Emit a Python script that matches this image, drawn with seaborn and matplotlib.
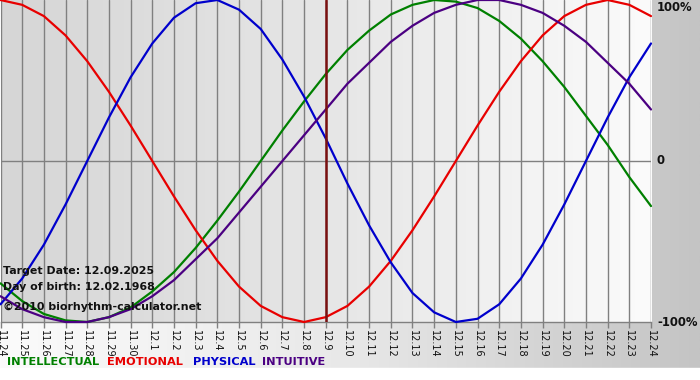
import numpy as np
import pandas as pd
import matplotlib
matplotlib.use("Agg")
import matplotlib.pyplot as plt
import seaborn as sns
from matplotlib.colors import LinearSegmentedColormap

# ---- data ----
dates = ["11.24", "11.25", "11.26", "11.27", "11.28", "11.29", "11.30",
         "12.1", "12.2", "12.3", "12.4", "12.5", "12.6", "12.7", "12.8",
         "12.9", "12.10", "12.11", "12.12", "12.13", "12.14", "12.15",
         "12.16", "12.17", "12.18", "12.19", "12.20", "12.21", "12.22",
         "12.23", "12.24"]

intellectual = [-0.76, -0.87, -0.95, -0.99, -1.00, -0.97, -0.91, -0.81, -0.69,
                -0.54, -0.37, -0.19, 0.00, 0.19, 0.37, 0.54, 0.69, 0.81, 0.91,
                0.97, 1.00, 0.99, 0.95, 0.87, 0.76, 0.62, 0.46, 0.28, 0.10,
                -0.10, -0.28]
emotional = [1.00, 0.97, 0.90, 0.78, 0.62, 0.43, 0.22, 0.00, -0.22, -0.43,
             -0.62, -0.78, -0.90, -0.97, -1.00, -0.97, -0.90, -0.78, -0.62,
             -0.43, -0.22, 0.00, 0.22, 0.43, 0.62, 0.78, 0.90, 0.97, 1.00,
             0.97, 0.90]
physical = [-0.89, -0.73, -0.52, -0.27, 0.00, 0.27, 0.52, 0.73, 0.89, 0.98,
            1.00, 0.94, 0.82, 0.63, 0.40, 0.14, -0.14, -0.40, -0.63, -0.82,
            -0.94, -1.00, -0.98, -0.89, -0.73, -0.52, -0.27, 0.00, 0.27,
            0.52, 0.73]
intuitive = [-0.84, -0.92, -0.97, -1.00, -1.00, -0.97, -0.92, -0.84, -0.74,
             -0.61, -0.48, -0.32, -0.16, 0.00, 0.16, 0.32, 0.48, 0.61, 0.74,
             0.84, 0.92, 0.97, 1.00, 1.00, 0.97, 0.92, 0.84, 0.74, 0.61,
             0.48, 0.32]

series_names = ["INTELLECTUAL", "EMOTIONAL", "PHYSICAL", "INTUITIVE"]
series_colors = ["#008000", "#e80000", "#0000cc", "#4b0082"]
y_labels = ["100%", "0", "-100%"]
target_date = "12.9"
info_lines = ["Target Date: 12.09.2025", "Day of birth: 12.02.1968",
              "\u00a92010 biorhythm-calculator.net"]

# ---- build table ----
frames = []
for name, vals in zip(series_names,
                      [intellectual, emotional, physical, intuitive]):
    frames.append(pd.DataFrame({"day": np.arange(len(dates)),
                                "value": vals, "series": name}))
df = pd.concat(frames, ignore_index=True)

sns.set_theme(style="white")
plt.rcParams["font.family"] = ["DejaVu Sans"]

W, H = 700, 380
fig = plt.figure(figsize=(W / 100, H / 100), dpi=100)

# figure background gradient
bg = fig.add_axes([0, 0, 1, 1], zorder=-10)
bg.axis("off")
cm_bg = LinearSegmentedColormap.from_list("bg", ["#fbfbfb", "#e8e8e8", "#c4c4c4"])
grad = np.linspace(0, 1, 256)[None, :]
bg.imshow(grad, cmap=cm_bg, aspect="auto", extent=[0, 1, 0, 1])
bg.axhspan(0, 12 / H, color="#ffffff", zorder=2)
bg.set_xlim(0, 1)
bg.set_ylim(0, 1)

# plot area
left, right, top, bottom = 0.5, 651, 0, 322
ax = fig.add_axes([left / W, 1 - bottom / H, (right - left) / W, (bottom - top) / H])
n = len(dates)
cm_ax = LinearSegmentedColormap.from_list("ax", ["#d6d6d6", "#e6e6e6", "#fbfbfb"])
ax.imshow(grad, cmap=cm_ax, aspect="auto", extent=[0, n - 1, -1, 1], zorder=0)

sns.lineplot(data=df, x="day", y="value", hue="series",
             palette=dict(zip(series_names, series_colors)),
             hue_order=series_names, linewidth=1.6, legend=False, ax=ax,
             zorder=5, clip_on=False)

ax.set_xlim(0, n - 1)
ax.set_ylim(-1, 1)
ax.set_xticks(np.arange(n))
ax.set_xticklabels(dates, rotation=270, fontsize=7, color="#111111")
ax.set_yticks([])
ax.grid(axis="x", color="#808080", linewidth=1, zorder=1)
ax.set_axisbelow(True)
ax.axhline(0, color="#808080", linewidth=1, zorder=1)
ax.axvline(dates.index(target_date), color="#7a1010", linewidth=1.8, zorder=6)
ax.tick_params(axis="x", length=4, width=1, color="#808080", pad=2,
               bottom=True)
for s in ["left", "right", "top"]:
    ax.spines[s].set_visible(False)
ax.spines["bottom"].set_color("#808080")
ax.spines["bottom"].set_linewidth(1)
ax.set_xlabel("")
ax.set_ylabel("")

# right side labels
for lab, yv in zip(y_labels, [0.955, 0, -1]):
    fs = 8.4
    ax.text(1.0 + 6 / 651, yv, lab, transform=ax.get_yaxis_transform(),
            ha="left", va="center", fontsize=fs, fontweight="bold",
            color="#111111", clip_on=False)

# info text
for i, (txt, ypx) in enumerate(zip(info_lines, [271, 287, 307])):
    fig.text(3 / W, 1 - ypx / H, txt, ha="left", va="center",
             fontsize=7.9, fontweight="bold", color="#111111", zorder=10)

# legend text
xs = [7, 107, 193, 262]
for name, col, xp in zip(series_names, series_colors, xs):
    fig.text(xp / W, 1 - 362 / H, name, ha="left", va="center",
             fontsize=8.2, fontweight="bold", color=col)

fig.savefig("out.png", dpi=100)
